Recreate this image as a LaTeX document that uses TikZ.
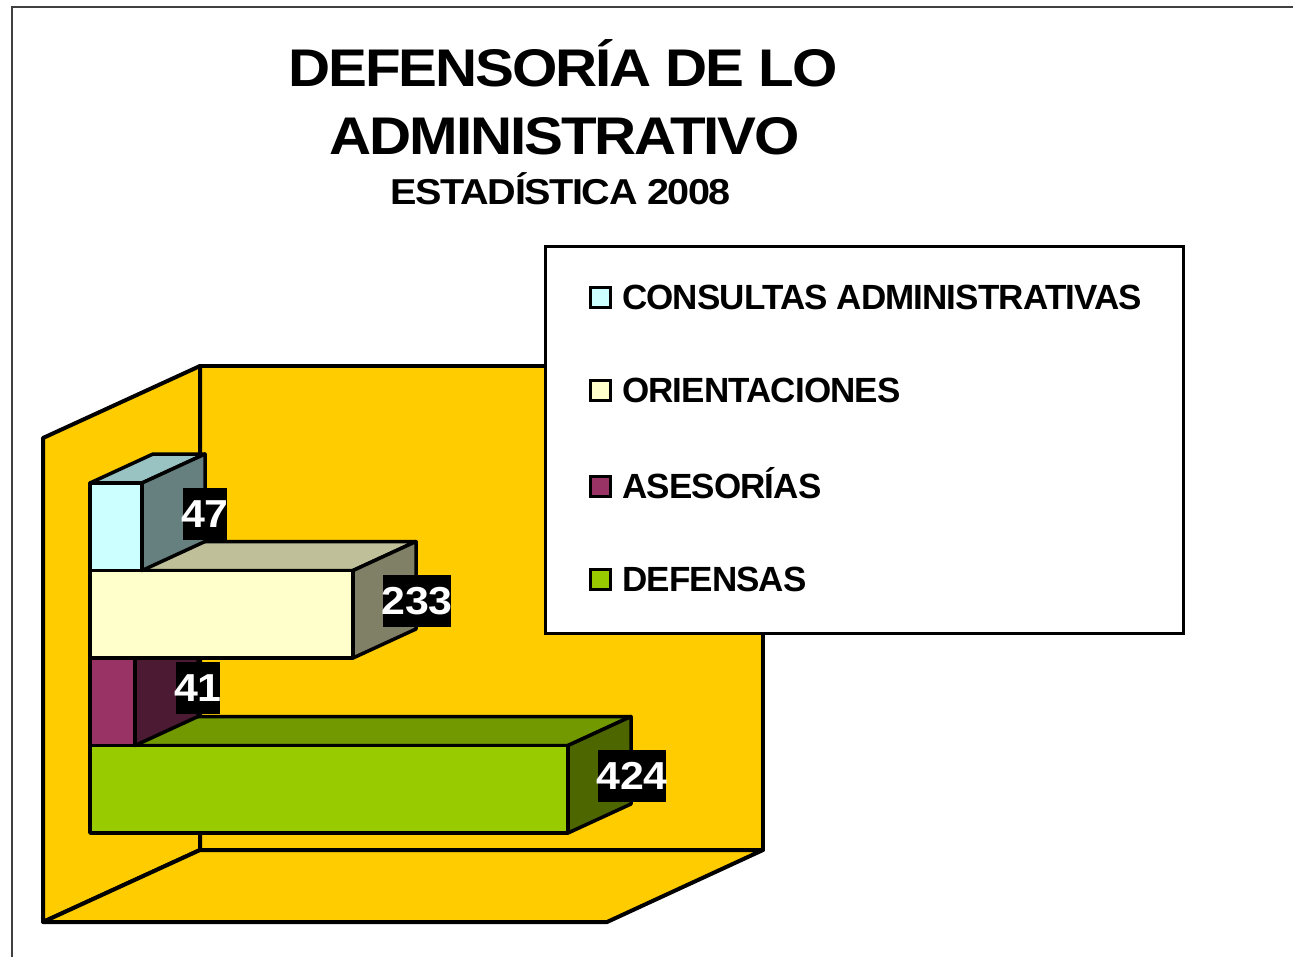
\documentclass[tikz,border=0pt]{standalone}
\usepackage{fontspec}
\setmainfont{Liberation Sans}
\newfontfamily\titlefont[LetterSpace=-4,FakeStretch=1.1]{Liberation Sans}
\newfontfamily\legfont[LetterSpace=-2.5]{Liberation Sans}
\newfontfamily\valfont[LetterSpace=-1,FakeStretch=1.1]{Liberation Sans}
\usepackage{tikz}
\usepackage{xcolor}
\definecolor{wallyellow}{HTML}{FFCC00}
\definecolor{consfront}{HTML}{CCFFFF}
\definecolor{constop}{HTML}{99C2C2}
\definecolor{consside}{HTML}{668080}
\definecolor{oriefront}{HTML}{FFFFCC}
\definecolor{orietop}{HTML}{BFBF99}
\definecolor{orieside}{HTML}{808066}
\definecolor{asesfront}{HTML}{993366}
\definecolor{asestop}{HTML}{73264D}
\definecolor{asesside}{HTML}{4D1A33}
\definecolor{deffront}{HTML}{99CC00}
\definecolor{deftop}{HTML}{739900}
\definecolor{defside}{HTML}{4D6600}
\definecolor{framegray}{HTML}{404040}

\begin{document}
\begin{tikzpicture}[x=1pt,y=-1pt,
  wall/.style={fill=wallyellow,draw=black,line width=4pt,line join=round},
  face/.style={draw=black,line width=3.5pt,line join=round},
  valbox/.style={fill=black,text=white,inner xsep=-1.5pt,inner ysep=3.5pt,minimum height=52pt,
    font=\valfont\bfseries\fontsize{39}{39}\selectfont},
  legmark/.style={draw=black,line width=3pt,minimum size=20pt,inner sep=0pt},
  legtext/.style={anchor=base west,inner sep=0pt,
    font=\legfont\bfseries\fontsize{35}{35}\selectfont},
  titletext/.style={anchor=base,inner sep=0pt,
    font=\titlefont\bfseries\fontsize{#1}{#1}\selectfont}]
  \useasboundingbox (0,0) rectangle (1293,956);
  \draw[framegray,line width=2pt] (1300,7) -- (12,7) -- (12,960);

  % title
  \node[titletext=53] (title1) at (563,86) {DEFENSORÍA DE LO};
  \node[titletext=53] (title2) at (565,154) {ADMINISTRATIVO};
  \node[titletext=36] (title3) at (561,204) {ESTADÍSTICA 2008};

  % walls and floor
  \filldraw[wall] (200,366) rectangle (763,850);
  \filldraw[wall] (43,438) -- (200,366) -- (200,850) -- (43,922) -- cycle;
  \filldraw[wall] (43,922) -- (200,850) -- (763,850) -- (607,922) -- cycle;

  % bars, front one first
  \filldraw[face,fill=deftop] (90,745.5) -- ++(63,-29) -- ++(478,0) -- ++(-63,29) -- cycle;
  \filldraw[face,fill=defside] (568,745.5) -- ++(63,-29) -- ++(0,87.5) -- ++(-63,29) -- cycle;
  \filldraw[face,fill=deffront] (90,745.5) rectangle (568,833);

  \filldraw[face,fill=asestop] (90,658) -- ++(63,-29) -- ++(45,0) -- ++(-63,29) -- cycle;
  \filldraw[face,fill=asesside] (135,658) -- ++(63,-29) -- ++(0,87.5) -- ++(-63,29) -- cycle;
  \filldraw[face,fill=asesfront] (90,658) rectangle (135,745.5);

  \filldraw[face,fill=orietop] (90,570.5) -- ++(63,-29) -- ++(263,0) -- ++(-63,29) -- cycle;
  \filldraw[face,fill=orieside] (353,570.5) -- ++(63,-29) -- ++(0,87.5) -- ++(-63,29) -- cycle;
  \filldraw[face,fill=oriefront] (90,570.5) rectangle (353,658);

  \filldraw[face,fill=constop] (90,483) -- ++(63,-29) -- ++(52,0) -- ++(-63,29) -- cycle;
  \filldraw[face,fill=consside] (142,483) -- ++(63,-29) -- ++(0,87.5) -- ++(-63,29) -- cycle;
  \filldraw[face,fill=consfront] (90,483) rectangle (142,570.5);

  % values
  \node[valbox] (val47) at (205,514) {47};
  \node[valbox] (val233) at (417,601) {233};
  \node[valbox] (val41) at (198,688) {41};
  \node[valbox] (val424) at (632,776) {424};

  % legend
  \filldraw[draw=black,fill=white,line width=3pt] (545,246) rectangle (1183,633);
  \node[legmark,fill=consfront] (mkcons) at (600,297) {};
  \node[legmark,fill=oriefront] (mkorie) at (600,390) {};
  \node[legmark,fill=asesfront] (mkases) at (600,486) {};
  \node[legmark,fill=deffront] (mkdef) at (600,579) {};
  \node[legtext] (txcons) at (622,309) {CONSULTAS ADMINISTRATIVAS};
  \node[legtext] (txorie) at (622,402) {ORIENTACIONES};
  \node[legtext] (txases) at (622,498) {ASESORÍAS};
  \node[legtext] (txdef) at (622,591) {DEFENSAS};
\end{tikzpicture}
\end{document}
